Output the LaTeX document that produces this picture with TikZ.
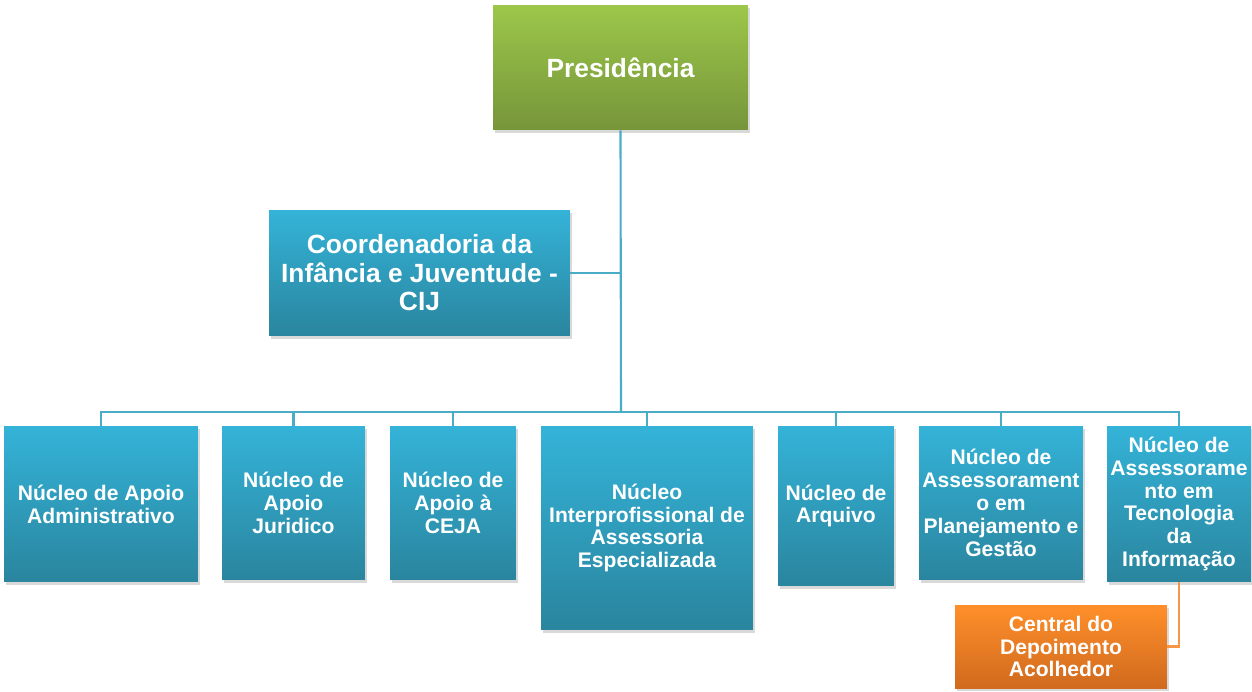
\documentclass[tikz,border=0pt]{standalone}
\usepackage{fontspec}
\setmainfont{Liberation Sans}
\usetikzlibrary{shadows}
\definecolor{bluetop}{HTML}{34B3D8}
\definecolor{bluebot}{HTML}{2A859E}
\definecolor{greentop}{HTML}{9CC74A}
\definecolor{greenbot}{HTML}{76953A}
\definecolor{orangetop}{HTML}{FF8F2A}
\definecolor{orangebot}{HTML}{D06A1E}
\definecolor{linkblue}{HTML}{4BACC6}
\definecolor{linkorange}{HTML}{F79646}
\tikzset{
my box/.style={rectangle,inner sep=0.3mm,align=center,text=white,
  font=\bfseries\fontsize{12}{13}\selectfont,
  drop shadow={shadow xshift=0.04cm,shadow yshift=-0.06cm,opacity=0.3}},
my blue/.style={my box,top color=bluetop,bottom color=bluebot},
my green/.style={my box,top color=greentop,bottom color=greenbot},
my orange/.style={my box,top color=orangetop,bottom color=orangebot},
big text/.style={font=\bfseries\fontsize{15}{16.2}\selectfont},
link/.style={draw=linkblue,line width=1.2pt},
link2/.style={draw=linkorange,line width=1.2pt}
}
\begin{document}
\begin{tikzpicture}[x=0.02cm,y=-0.02cm]
\useasboundingbox (0,0) rectangle (1252,691);
% top levels
\node[my green,big text,minimum width=5.10cm,minimum height=2.50cm] (pres) at (620.5,67.5) {Presidência};
\node[my blue,big text,minimum width=6.02cm,minimum height=2.52cm] (cij) at (419.5,273) {Coordenadoria da\\Infância e Juventude -\\CIJ};
% nucleos
\node[my blue,minimum width=3.88cm,minimum height=3.12cm] (n1) at (101,504) {Núcleo de Apoio\\Administrativo};
\node[my blue,minimum width=2.86cm,minimum height=3.08cm] (n2) at (293.5,503) {Núcleo de\\Apoio\\Juridico};
\node[my blue,minimum width=2.52cm,minimum height=3.08cm] (n3) at (453,503) {Núcleo de\\Apoio à\\CEJA};
\node[my blue,minimum width=4.24cm,minimum height=4.08cm] (n4) at (647,528) {Núcleo\\Interprofissional de\\Assessoria\\Especializada};
\node[my blue,minimum width=2.32cm,minimum height=3.20cm] (n5) at (836,506) {Núcleo de\\Arquivo};
\node[my blue,minimum width=3.28cm,minimum height=3.08cm] (n6) at (1001,503) {Núcleo de\\Assessorament\\o em\\Planejamento e\\Gestão};
\node[my blue,minimum width=2.88cm,minimum height=3.12cm] (n7) at (1179,504) {Núcleo de\\Assessorame\\nto em\\Tecnologia\\da\\Informação};
\node[my orange,minimum width=4.24cm,minimum height=1.66cm] (cen) at (1061,646.5) {Central do\\Depoimento\\Acolhedor};
\coordinate (bus) at (621,412);

% connectors
\path[link] (pres.south) -- (bus);
\path[link] (cij.east) -- (cij.east -| pres.south);
\foreach \n in {n1,n2,n3,n4,n5,n6,n7}
  \path[link] (\n.north) |- (bus);
\path[link2] (n7.south) |- (cen.east);
\end{tikzpicture}
\end{document}
